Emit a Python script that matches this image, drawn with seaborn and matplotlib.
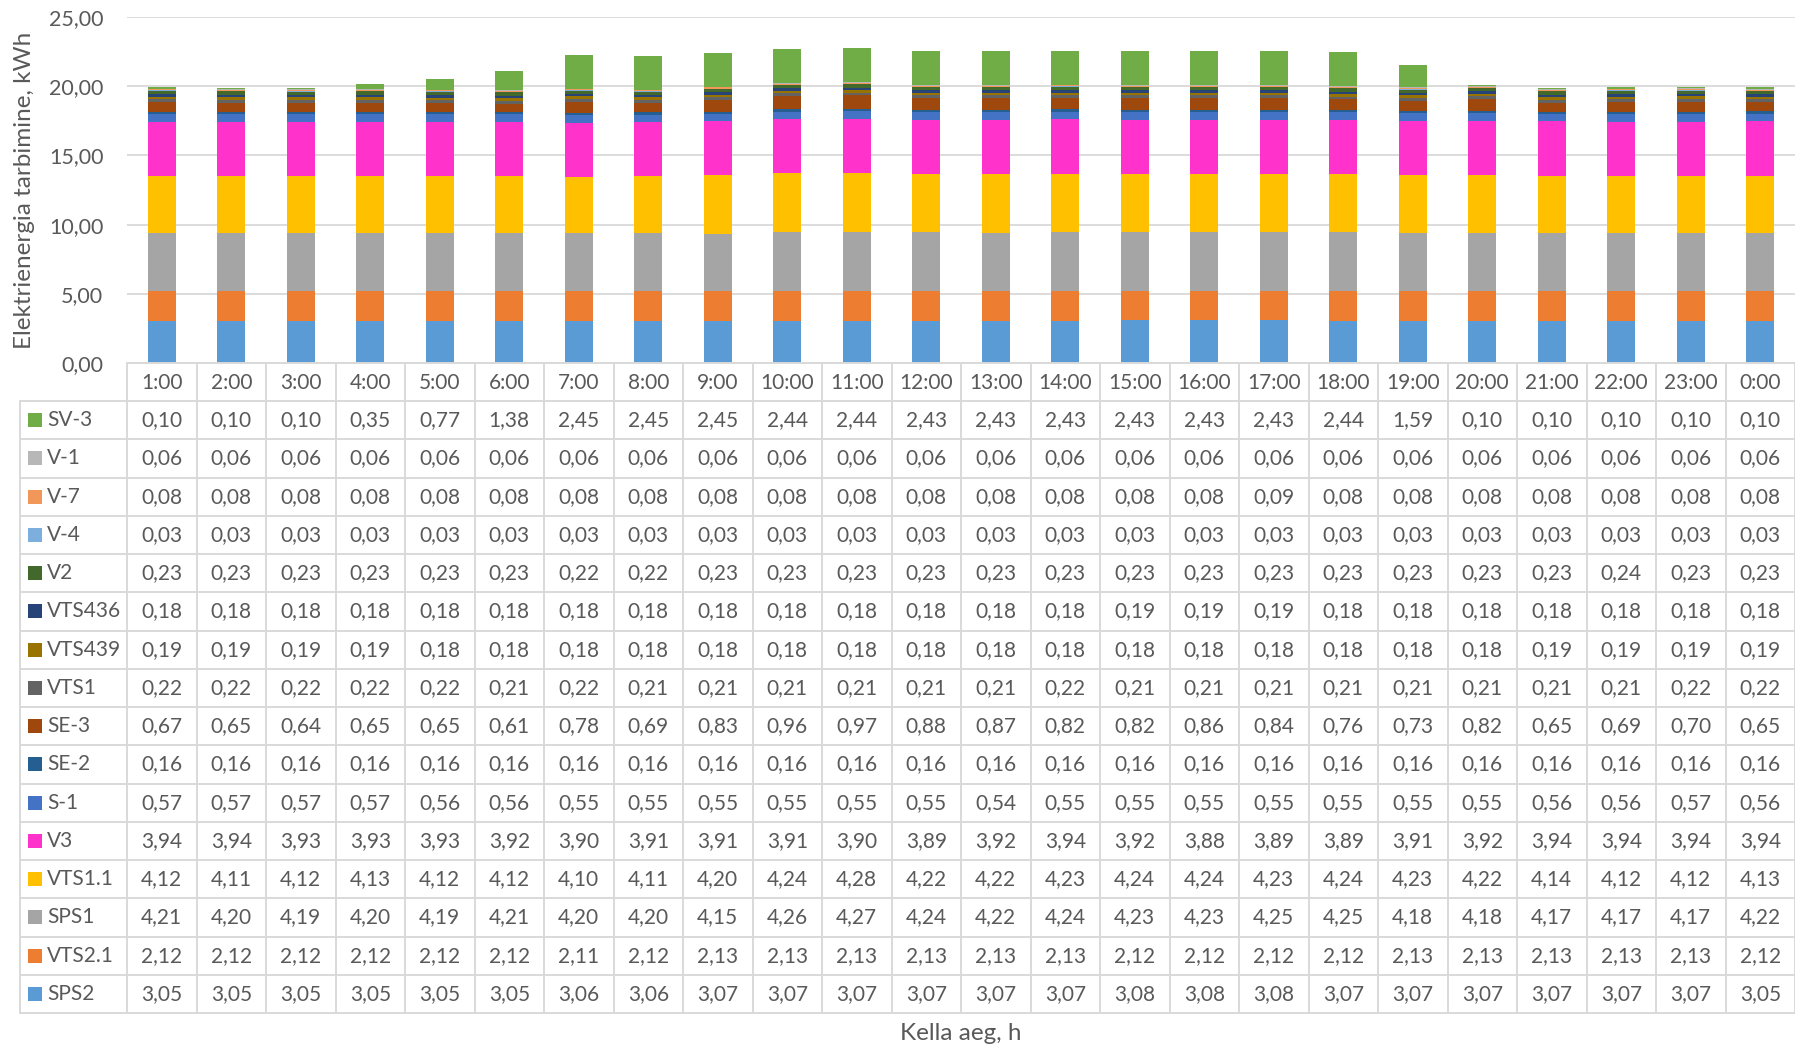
import numpy as np
import matplotlib
matplotlib.use("Agg")
import matplotlib.pyplot as plt
import matplotlib.transforms as mtransforms
from matplotlib.patches import Rectangle
from matplotlib.lines import Line2D
from matplotlib.ticker import FuncFormatter, MultipleLocator
import seaborn as sns

# ---------------------------------------------------------------- data
hours = ["1:00", "2:00", "3:00", "4:00", "5:00", "6:00", "7:00", "8:00",
         "9:00", "10:00", "11:00", "12:00", "13:00", "14:00", "15:00", "16:00",
         "17:00", "18:00", "19:00", "20:00", "21:00", "22:00", "23:00", "0:00"]

sps2 = [3.05, 3.05, 3.05, 3.05, 3.05, 3.05, 3.06, 3.06, 3.07, 3.07, 3.07, 3.07,
        3.07, 3.07, 3.08, 3.08, 3.08, 3.07, 3.07, 3.07, 3.07, 3.07, 3.07, 3.05]
vts2_1 = [2.12, 2.12, 2.12, 2.12, 2.12, 2.12, 2.11, 2.12, 2.13, 2.13, 2.13, 2.13,
          2.13, 2.13, 2.12, 2.12, 2.12, 2.12, 2.13, 2.13, 2.13, 2.13, 2.13, 2.12]
sps1 = [4.21, 4.20, 4.19, 4.20, 4.19, 4.21, 4.20, 4.20, 4.15, 4.26, 4.27, 4.24,
        4.22, 4.24, 4.23, 4.23, 4.25, 4.25, 4.18, 4.18, 4.17, 4.17, 4.17, 4.22]
vts1_1 = [4.12, 4.11, 4.12, 4.13, 4.12, 4.12, 4.10, 4.11, 4.20, 4.24, 4.28, 4.22,
          4.22, 4.23, 4.24, 4.24, 4.23, 4.24, 4.23, 4.22, 4.14, 4.12, 4.12, 4.13]
v3 = [3.94, 3.94, 3.93, 3.93, 3.93, 3.92, 3.90, 3.91, 3.91, 3.91, 3.90, 3.89,
      3.92, 3.94, 3.92, 3.88, 3.89, 3.89, 3.91, 3.92, 3.94, 3.94, 3.94, 3.94]
s_1 = [0.57, 0.57, 0.57, 0.57, 0.56, 0.56, 0.55, 0.55, 0.55, 0.55, 0.55, 0.55,
       0.54, 0.55, 0.55, 0.55, 0.55, 0.55, 0.55, 0.55, 0.56, 0.56, 0.57, 0.56]
se_2 = [0.16] * 24
se_3 = [0.67, 0.65, 0.64, 0.65, 0.65, 0.61, 0.78, 0.69, 0.83, 0.96, 0.97, 0.88,
        0.87, 0.82, 0.82, 0.86, 0.84, 0.76, 0.73, 0.82, 0.65, 0.69, 0.70, 0.65]
vts1 = [0.22, 0.22, 0.22, 0.22, 0.22, 0.21, 0.22, 0.21, 0.21, 0.21, 0.21, 0.21,
        0.21, 0.22, 0.21, 0.21, 0.21, 0.21, 0.21, 0.21, 0.21, 0.21, 0.22, 0.22]
vts439 = [0.19, 0.19, 0.19, 0.19, 0.18, 0.18, 0.18, 0.18, 0.18, 0.18, 0.18, 0.18,
          0.18, 0.18, 0.18, 0.18, 0.18, 0.18, 0.18, 0.18, 0.19, 0.19, 0.19, 0.19]
vts436 = [0.18, 0.18, 0.18, 0.18, 0.18, 0.18, 0.18, 0.18, 0.18, 0.18, 0.18, 0.18,
          0.18, 0.18, 0.19, 0.19, 0.19, 0.18, 0.18, 0.18, 0.18, 0.18, 0.18, 0.18]
v2 = [0.23, 0.23, 0.23, 0.23, 0.23, 0.23, 0.22, 0.22, 0.23, 0.23, 0.23, 0.23,
      0.23, 0.23, 0.23, 0.23, 0.23, 0.23, 0.23, 0.23, 0.23, 0.24, 0.23, 0.23]
v_4 = [0.03] * 24
v_7 = [0.08, 0.08, 0.08, 0.08, 0.08, 0.08, 0.08, 0.08, 0.08, 0.08, 0.08, 0.08,
       0.08, 0.08, 0.08, 0.08, 0.09, 0.08, 0.08, 0.08, 0.08, 0.08, 0.08, 0.08]
v_1 = [0.06] * 24
sv_3 = [0.10, 0.10, 0.10, 0.35, 0.77, 1.38, 2.45, 2.45, 2.45, 2.44, 2.44, 2.43,
        2.43, 2.43, 2.43, 2.43, 2.43, 2.44, 1.59, 0.10, 0.10, 0.10, 0.10, 0.10]

# stacking order, bottom first
series_labels = ["SPS2", "VTS2.1", "SPS1", "VTS1.1", "V3", "S-1", "SE-2", "SE-3",
                 "VTS1", "VTS439", "VTS436", "V2", "V-4", "V-7", "V-1", "SV-3"]
series_values = [sps2, vts2_1, sps1, vts1_1, v3, s_1, se_2, se_3,
                 vts1, vts439, vts436, v2, v_4, v_7, v_1, sv_3]
series_colors = ["#5B9BD5", "#ED7D31", "#A5A5A5", "#FFC000", "#FF33CC", "#4472C4",
                 "#255E91", "#9E480E", "#636363", "#997300", "#264478", "#43682B",
                 "#7CAFDD", "#F1975A", "#B7B7B7", "#70AD47"]

# ---------------------------------------------------------------- style
sns.set_style("white")
plt.rcParams["font.family"] = ["Lato", "DejaVu Sans"]
TXT = "#595959"
GRID = "#D9D9D9"
FS = 15
FS_TITLE = 17.5

W, H = 1795, 1051
fig = plt.figure(figsize=(W / 100, H / 100), dpi=100)

def fy(px):
    """figure fraction from a pixel row counted from the top"""
    return 1 - px / H

plot_left, plot_right = 127, 1795
plot_top, plot_bottom = 17, 363
ax = fig.add_axes([plot_left / W, fy(plot_bottom),
                   (plot_right - plot_left) / W, (plot_bottom - plot_top) / H])

# ---------------------------------------------------------------- stacked bars
bottom = np.zeros(len(hours))
for label, vals, color in zip(series_labels, series_values, series_colors):
    vals = np.asarray(vals, dtype=float)
    sns.barplot(x=hours, y=vals, order=hours, color=color, saturation=1,
                width=0.4, errorbar=None, linewidth=0, bottom=bottom.copy(),
                ax=ax, zorder=3)
    bottom = bottom + vals

ax.set_xlim(-0.5, len(hours) - 0.5)
ax.set_ylim(0, 25)
ax.yaxis.set_major_locator(MultipleLocator(5))
ax.yaxis.set_major_formatter(FuncFormatter(lambda v, p: f"{v:.2f}".replace(".", ",")))
ax.set_xticks([])
ax.set_xlabel("")
ax.set_ylabel("")
ax.yaxis.grid(True, color=GRID, linewidth=1.3, zorder=0)
ax.set_axisbelow(True)
for s in ax.spines.values():
    s.set_visible(False)
ax.tick_params(axis="y", length=0, pad=17, labelsize=15.5, labelcolor=TXT)

ax.text(25 / W, fy((plot_top + plot_bottom) / 2), "Elektrienergia tarbimine, kWh",
        transform=fig.transFigure, rotation=90, ha="center", va="center",
        fontsize=FS_TITLE, color=TXT)
fig.text((plot_left + plot_right) / 2 / W, fy(1034), "Kella aeg, h",
         ha="center", va="center", fontsize=FS_TITLE, color=TXT)

# ---------------------------------------------------------------- data table
cell_tr = mtransforms.blended_transform_factory(ax.transData, fig.transFigure)
head_top, head_bot = 363, 401
row_h = 38.25
n_rows = len(series_labels)
table_bot = head_bot + n_rows * row_h
legend_left = 20
lw_tab = 1.4

# vertical cell borders
for k in range(len(hours) + 1):
    fig.add_artist(Line2D([k - 0.5, k - 0.5], [fy(head_top), fy(table_bot)],
                          transform=cell_tr, color=GRID, lw=lw_tab))
fig.add_artist(Line2D([legend_left / W, legend_left / W], [fy(head_bot), fy(table_bot)],
                      transform=fig.transFigure, color=GRID, lw=lw_tab))
# horizontal borders
fig.add_artist(Line2D([-0.5, len(hours) - 0.5], [fy(head_top), fy(head_top)],
                      transform=cell_tr, color=GRID, lw=lw_tab))
for r in range(n_rows + 1):
    y = fy(head_bot + r * row_h)
    fig.add_artist(Line2D([legend_left / W, 1.0], [y, y],
                          transform=fig.transFigure, color=GRID, lw=lw_tab))

# header: hours
for i, h in enumerate(hours):
    fig.text(i, fy((head_top + head_bot) / 2 + 1), h, transform=cell_tr,
             ha="center", va="center", fontsize=FS, color=TXT)

# rows: top row is the last stacked series
for r, idx in enumerate(range(n_rows - 1, -1, -1)):
    yc = fy(head_bot + (r + 0.5) * row_h)
    fig.add_artist(Rectangle((28 / W, yc - 7 / H), 14 / W, 14 / H,
                             transform=fig.transFigure,
                             facecolor=series_colors[idx], edgecolor="none"))
    fig.text(47 / W, yc, series_labels[idx], ha="left", va="center",
             fontsize=FS, color=TXT)
    for i, v in enumerate(series_values[idx]):
        fig.text(i, yc, f"{v:.2f}".replace(".", ","), transform=cell_tr,
                 ha="center", va="center", fontsize=FS, color=TXT)

fig.savefig("out.png", dpi=100, facecolor="white")
